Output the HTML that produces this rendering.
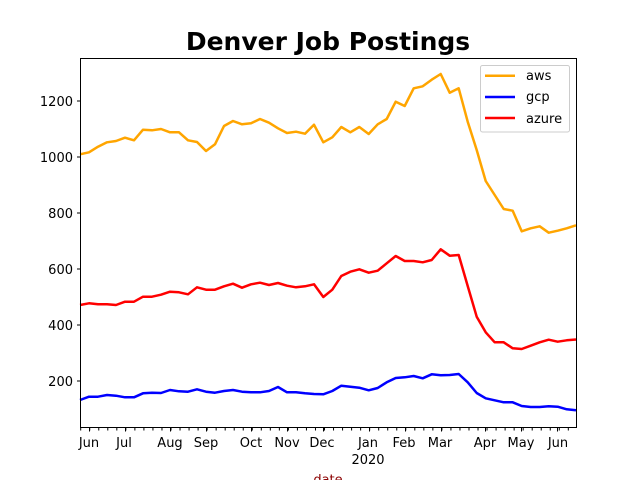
<!DOCTYPE html>
<html><head><meta charset="utf-8"><style>
html,body{margin:0;padding:0;background:#fff;}
svg text{font-family:"DejaVu Sans","Liberation Sans",sans-serif;}
</style></head><body>
<svg width="640" height="480" viewBox="0 0 640 480" xmlns="http://www.w3.org/2000/svg">
<rect width="640" height="480" fill="#fff"/>
<text x="328" y="50" font-size="25" font-weight="bold" text-anchor="middle">Denver Job Postings</text>
<g fill="none" stroke-width="2.5" stroke-linejoin="round">
<polyline stroke="#ffa500" points="80,154.3 89,152.3 98,146.7 107,142.3 116,141 125,137.7 134,140.3 143,129.7 152,130.3 161,129 170,132.3 179,132.3 188,140.3 197,142 206,151 215,144.3 224,126 233,121 242,124.3 251,123.3 260,119 269,122.7 278,128.3 287,133 296,131.7 305,133.7 314,124.7 323.3,142.3 332.3,137.3 341.3,127 350.3,132.3 359.3,127 368.7,134 377.7,124.3 386.7,119 395.7,101.7 404.7,106 413.7,88.3 422.7,86.3 431.7,79.7 440.7,74 449.7,92.7 458.7,88.3 467.7,121.7 476.7,150 485.7,181 494.7,195 503.7,209 512.7,210.7 521.7,231.3 530.7,228.3 539.7,226.3 548.7,232.7 557.7,230.7 566.7,228.3 576,225.3"/>
<polyline stroke="#0000ff" points="80,400 89,396.7 98,396.7 107,395 116,395.7 125,397.3 134,397.3 143,393.3 152,392.7 161,393 170,390 179,391.3 188,391.7 197,389.3 206,391.7 215,392.7 224,391 233,390 242,391.7 251,392.3 260,392.3 269,391 278,387 287,392.3 296,392.3 305,393.3 314,394 323.3,394.3 332.3,391 341.3,385.7 350.3,386.7 359.3,387.7 368.7,390.3 377.7,388 386.7,382.3 395.7,378 404.7,377.3 413.7,376 422.7,378.3 431.7,374.3 440.7,375.3 449.7,375 458.7,374 467.7,382.3 476.7,393 485.7,398.3 494.7,400.3 503.7,402.3 512.7,402.3 521.7,406 530.7,407 539.7,407 548.7,406.3 557.7,406.7 566.7,409.3 576,410.3"/>
<polyline stroke="#ff0000" points="80,305 89,303.3 98,304.3 107,304.3 116,305 125,301.7 134,301.7 143,296.7 152,296.7 161,294.7 170,291.7 179,292.3 188,294.3 197,287.3 206,289.7 215,289.7 224,286.3 233,283.7 242,287.7 251,284.3 260,282.7 269,285 278,283 287,285.7 296,287.3 305,286.3 314,284.3 323.3,297 332.3,289.7 341.3,276 350.3,271.7 359.3,269.3 368.7,272.7 377.7,270.7 386.7,263.3 395.7,256 404.7,261 413.7,261 422.7,262.3 431.7,260 440.7,249.3 449.7,255.7 458.7,255 467.7,286 476.7,316.7 485.7,332.3 494.7,342.3 503.7,342.3 512.7,348.3 521.7,349 530.7,345.7 539.7,342.3 548.7,339.7 557.7,341.7 566.7,340.3 576,339.5"/>
</g>
<rect x="80.5" y="58.5" width="496" height="369" fill="none" stroke="#000" stroke-width="1"/>
<g stroke="#000" stroke-width="1">
<line x1="77" y1="381" x2="80" y2="381"/><line x1="77" y1="325" x2="80" y2="325"/><line x1="77" y1="269" x2="80" y2="269"/><line x1="77" y1="213" x2="80" y2="213"/><line x1="77" y1="157" x2="80" y2="157"/><line x1="77" y1="101" x2="80" y2="101"/>
<line x1="80" y1="429" x2="576" y2="429" stroke-width="3" stroke-dasharray="1 8.03" stroke-dashoffset="-0.2"/>
<g stroke-width="1">
<line x1="89.5" y1="428" x2="89.5" y2="431.5"/><line x1="125.5" y1="428" x2="125.5" y2="431.5"/><line x1="170.5" y1="428" x2="170.5" y2="431.5"/><line x1="206.5" y1="428" x2="206.5" y2="431.5"/><line x1="251.5" y1="428" x2="251.5" y2="431.5"/><line x1="287.5" y1="428" x2="287.5" y2="431.5"/><line x1="323.5" y1="428" x2="323.5" y2="431.5"/><line x1="369.5" y1="428" x2="369.5" y2="431.5"/><line x1="405.5" y1="428" x2="405.5" y2="431.5"/><line x1="441.5" y1="428" x2="441.5" y2="431.5"/><line x1="485.5" y1="428" x2="485.5" y2="431.5"/><line x1="521.5" y1="428" x2="521.5" y2="431.5"/><line x1="557.5" y1="428" x2="557.5" y2="431.5"/>
</g>
</g>
<g font-size="13" text-anchor="end">
<text x="73" y="386">200</text><text x="73" y="330">400</text><text x="73" y="274">600</text><text x="73" y="218">800</text><text x="73" y="162">1000</text><text x="73" y="106">1200</text>
</g>
<g font-size="13" text-anchor="middle">
<text x="89" y="447">Jun</text><text x="124" y="447">Jul</text><text x="170" y="447">Aug</text><text x="206" y="447">Sep</text><text x="251" y="447">Oct</text><text x="287" y="447">Nov</text><text x="322" y="447">Dec</text><text x="368" y="447">Jan</text><text x="404" y="447">Feb</text><text x="440" y="447">Mar</text><text x="485" y="447">Apr</text><text x="521" y="447">May</text><text x="558" y="447">Jun</text>
<text x="368" y="464">2020</text>
<text x="328" y="484" fill="#8b0000">date</text>
</g>
<rect x="480.5" y="65.5" width="89" height="66.5" rx="2" fill="#fff" fill-opacity="0.8" stroke="#ccc"/>
<g stroke-width="2.5">
<line x1="485" y1="75.7" x2="515" y2="75.7" stroke="#ffa500"/>
<line x1="485" y1="97" x2="515" y2="97" stroke="#0000ff"/>
<line x1="485" y1="118" x2="515" y2="118" stroke="#ff0000"/>
</g>
<g font-size="13">
<text x="526" y="80">aws</text><text x="526" y="101">gcp</text><text x="526" y="123">azure</text>
</g>
</svg>
</body></html>
